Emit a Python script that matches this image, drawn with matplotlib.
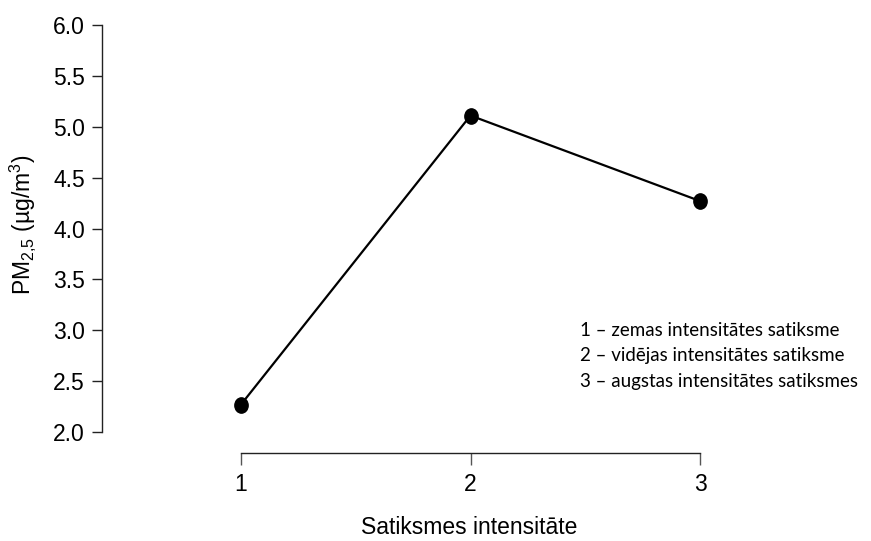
import matplotlib
matplotlib.use("Agg")
import matplotlib.pyplot as plt
import numpy as np
from matplotlib.path import Path

categories = [1, 2, 3]
pm25 = [2.27, 5.11, 4.27]
yticks = [2.0, 2.5, 3.0, 3.5, 4.0, 4.5, 5.0, 5.5, 6.0]
legend_lines = ["1 – zemas intensitātes satiksme",
                "2 – vidējas intensitātes satiksme",
                "3 – augstas intensitātes satiksmes"]

plt.rcParams['font.family'] = ['Liberation Sans', 'DejaVu Sans']
plt.rcParams['mathtext.fontset'] = 'custom'
plt.rcParams['mathtext.rm'] = 'Liberation Sans'
plt.rcParams['mathtext.it'] = 'Liberation Sans'

W, H = 871, 541
fig = plt.figure(figsize=(W/100, H/100), dpi=100)

# elliptical marker (slightly taller than wide)
circ = Path.unit_circle()
ell = Path(circ.vertices * np.array([0.87, 1.0]), circ.codes)

l, r, b, t = 241, 700, 432, 25
ax = fig.add_axes([l/W, 1 - b/H, (r-l)/W, (b-t)/H])
ax.set_xlim(1, 3)
ax.set_ylim(2, 6)
ax.plot(categories, pm25, color='black', lw=1.6, marker=ell, markersize=11,
        clip_on=False, zorder=3)

for s in ['top', 'right']:
    ax.spines[s].set_visible(False)
ax.spines['left'].set_position(('outward', 139*0.72))
ax.spines['bottom'].set_position(('outward', 21*0.72))
ax.spines['left'].set_bounds(2, 6)
ax.spines['bottom'].set_bounds(1, 3)
for s in ['left', 'bottom']:
    ax.spines[s].set_linewidth(1.0)
    ax.spines[s].set_color('#222222')

ax.set_yticks(yticks)
ax.set_yticklabels([f"{v:.1f}" for v in yticks])
ax.set_xticks(categories)
ax.set_xticklabels([str(c) for c in categories])
ax.tick_params(axis='y', length=7.2, width=1.0, pad=5, labelsize=16.5, color='#222222')
ax.tick_params(axis='x', length=8.5, width=1.0, pad=6, labelsize=16.5, color='#555555')

fig.text(22/W, 1 - 225/H, r"PM$_{2{,}5}$ (µg/m$^3$)", rotation=90, ha='center', va='center',
         fontsize=16.5)
fig.text(469/W, 1 - 528/H, "Satiksmes intensitāte", ha='center', va='center', fontsize=16.5)

ys = [330, 355, 381]
for txt, yy in zip(legend_lines, ys):
    fig.text(580/W, 1 - yy/H, txt, ha='left', va='center', fontsize=13.5,
             family=['Lato', 'DejaVu Sans'])

fig.savefig("out.png", dpi=100)
